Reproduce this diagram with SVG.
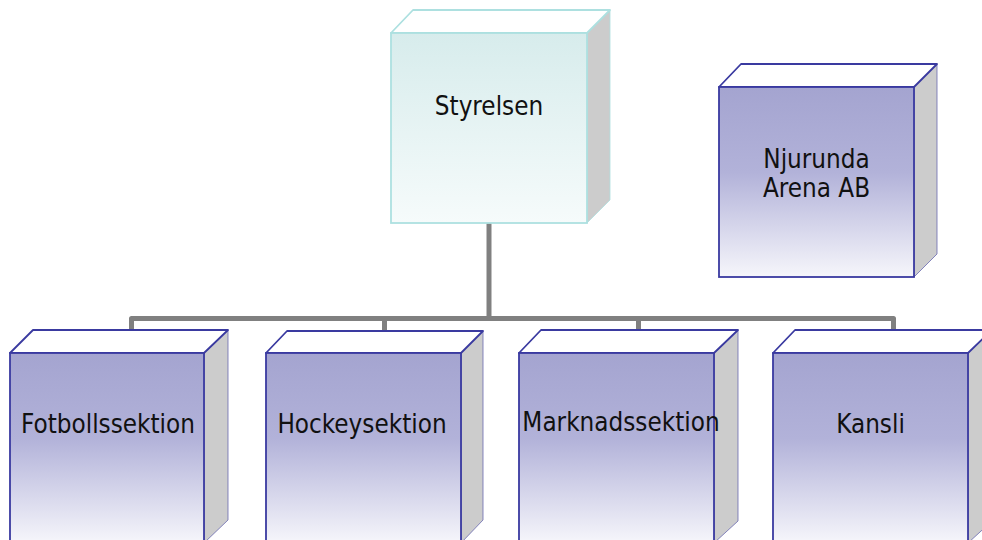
<svg xmlns="http://www.w3.org/2000/svg" width="982" height="540" viewBox="0 0 982 540">
<defs>
<linearGradient id="gBlue" x1="0" y1="0" x2="0" y2="1">
<stop offset="0" stop-color="#a4a4d0"/>
<stop offset="0.45" stop-color="#b2b2d9"/>
<stop offset="1" stop-color="#f6f6fb"/>
</linearGradient>
<linearGradient id="gCyan" x1="0" y1="0" x2="0" y2="1">
<stop offset="0" stop-color="#d7ecec"/>
<stop offset="1" stop-color="#f6fbfb"/>
</linearGradient>
<style>
.front{fill:url(#gBlue);stroke:#3a3aa0;stroke-width:1.8}
.top{fill:#ffffff;stroke:#3a3aa0;stroke-width:1.8;stroke-linejoin:round}
.side{fill:#cccccc;stroke:#6a6ab0;stroke-width:0.8}
.cfront{fill:url(#gCyan);stroke:#ade0e0;stroke-width:1.8}
.ctop{fill:#ffffff;stroke:#ade0e0;stroke-width:1.8;stroke-linejoin:round}
.cside{fill:#cccccc;stroke:#ade0e0;stroke-width:0.8}
.lbl{font-family:"DejaVu Sans Condensed","DejaVu Sans",sans-serif;font-stretch:condensed;font-size:25.8px;fill:#111111;text-anchor:middle}
.conn{fill:none;stroke:#808080;stroke-width:5;stroke-linejoin:round}
</style>
</defs>
<g id="connectors">
<path class="conn" d="M489 223 V318.5"/>
<path class="conn" d="M131.5 331 V318.5 H893.5 V331"/>
<path class="conn" d="M384.5 318.5 V331"/>
<path class="conn" d="M638.5 318.5 V331"/>
</g>
<g id="styrelsen">
<polygon class="cside" points="587,33 610,10 610,200 587,223"/>
<polygon class="ctop" points="391,33 413,10 610,10 587,33"/>
<rect class="cfront" x="391" y="33" width="196" height="190"/>
<text class="lbl" x="489" y="115">Styrelsen</text>
</g>
<g id="njurunda">
<polygon class="side" points="914,87 937,64 937,254 914,277"/>
<polygon class="top" points="719,87 741,64 937,64 914,87"/>
<rect class="front" x="719" y="87" width="195" height="190"/>
<text class="lbl" x="816.5" y="168">Njurunda</text>
<text class="lbl" x="816.5" y="197">Arena AB</text>
</g>
<g id="fotboll">
<polygon class="side" points="204,353 228,330 228,520 204,543"/>
<polygon class="top" points="10,353 33,330 228,330 204,353"/>
<rect class="front" x="10" y="353" width="194" height="190"/>
<text class="lbl" x="108" y="433">Fotbollssektion</text>
</g>
<g id="hockey">
<polygon class="side" points="461,353 483,331 483,520 461,543"/>
<polygon class="top" points="266,353 287,331 483,331 461,353"/>
<rect class="front" x="266" y="353" width="195" height="190"/>
<text class="lbl" x="362" y="433">Hockeysektion</text>
</g>
<g id="marknad">
<polygon class="side" points="714,353 738,330 738,521 714,543"/>
<polygon class="top" points="519,353 541,330 738,330 714,353"/>
<rect class="front" x="519" y="353" width="195" height="190"/>
<text class="lbl" x="621" y="431">Marknadssektion</text>
</g>
<g id="kansli">
<polygon class="side" points="968,353 992,330 992,521 968,543"/>
<polygon class="top" points="773,353 795,330 992,330 968,353"/>
<rect class="front" x="773" y="353" width="195" height="190"/>
<text class="lbl" x="870.5" y="433">Kansli</text>
</g>
</svg>
